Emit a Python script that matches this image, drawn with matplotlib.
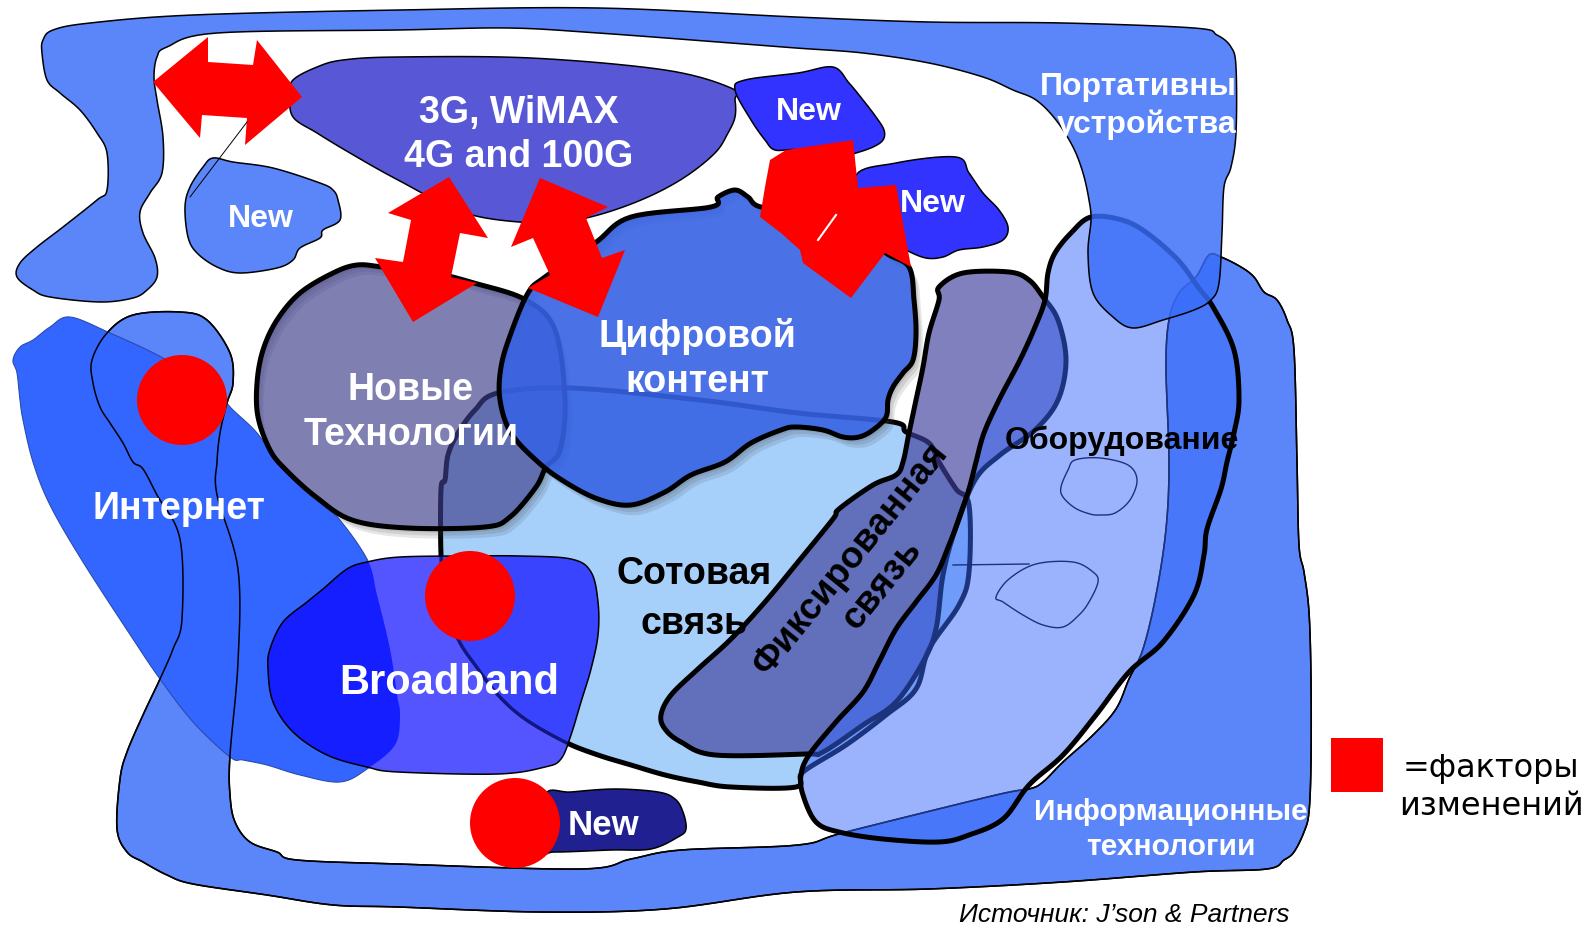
import numpy as np
import matplotlib
matplotlib.use("Agg")
import matplotlib.pyplot as plt
from matplotlib.patches import Polygon, Circle, Rectangle, PathPatch
from matplotlib.path import Path

# ---------------- labels (text content) ----------------
title_3g = ["3G, WiMAX", "4G and 100G"]
label_digital = ["Цифровой", "контент"]
label_newtech = ["Новые", "Технологии"]
label_internet = ["Интернет"]
label_broadband = ["Broadband"]
label_cellular = ["Сотовая", "связь"]
label_fixed = "Фиксированная\nсвязь"
label_equipment = ["Оборудование"]
label_portable = ["Портативны", "устройства"]
label_it = ["Информационные", "технологии"]
label_new = "New"
legend_label = ["=факторы", "изменений"]
source_label = "Источник: J\u2019son & Partners"

# ---------------- geometry (pixel outlines) ----------------
shape_A = [(53,30),(90,23),(193,15),(400,10),(598,8),(796,17),(929,22),(1063,23),(1194,28),(1217,35),
           (1231,47),(1236,67),(1236,133),(1231,167),(1224,187),(1222,233),(1219,283),(1211,300),(1194,310),
           (1163,320),(1133,328),(1113,317),(1093,293),(1088,253),(1091,220),(1089,200),(1083,173),(1073,147),
           (1056,120),(1036,100),(1013,90),(983,77),(929,63),(863,53),(796,48),(731,43),(598,33),(508,28),
           (398,30),(217,33),(167,47),(157,57),(154,77),(157,100),(163,137),(162,173),(150,193),(140,212),
           (143,233),(155,258),(157,277),(147,290),(133,298),(100,302),(50,297),(33,290),(17,277),(20,263),
           (37,247),(63,227),(97,200),(107,190),(107,153),(97,133),(80,110),(60,93),(47,80),(42,53),(43,40)]

shape_B = [(180,312),(133,315),(107,333),(92,360),(93,383),(100,407),(110,423),(123,443),(133,462),(143,469),
           (157,495),(180,539),(182,619),(173,649),(160,679),(143,715),(127,752),(120,779),(117,829),(127,852),
           (143,862),(167,875),(193,884),(267,895),(333,905),(398,907),(541,912),(665,909),(796,892),(929,889),
           (1063,882),(1194,872),(1267,869),(1284,860),(1294,852),(1304,832),(1309,812),(1311,762),(1311,679),
           (1309,612),(1304,572),(1299,545),(1297,462),(1294,350),(1287,320),(1277,300),(1264,292),(1254,277),
           (1241,267),(1221,257),(1209,255),(1196,277),(1179,293),(1169,320),(1166,367),(1169,462),(1166,529),
           (1156,595),(1143,649),(1129,679),(1116,709),(1093,735),(1063,762),(1043,782),(1029,789),(996,795),
           (846,832),(798,845),(681,850),(631,859),(581,869),(398,864),(297,860),(277,852),(250,842),(235,822),
           (230,795),(230,755),(238,662),(238,569),(217,495),(217,462),(220,433),(227,403),(233,383),(230,353),
           (207,320)]

shape_internet = [(13,360),(20,347),(33,340),(50,327),(70,317),(110,333),(163,358),(213,390),(233,410),
                  (257,433),(277,462),(300,485),(333,512),(367,559),(377,595),(390,649),(397,695),(400,715),
                  (395,745),(367,769),(340,782),(300,775),(267,765),(243,760),(230,757),(193,722),(160,679),
                  (133,639),(83,562),(50,505),(33,462),(23,420),(20,400),(17,373)]

shape_cell = [(498,393),(571,388),(700,400),(798,413),(893,422),(906,432),(929,443),(939,462),(956,489),
              (969,505),(969,572),(959,605),(929,649),(916,689),(886,715),(846,745),(803,772),(796,787),
              (731,787),(698,782),(665,775),(631,765),(598,755),(565,742),(525,719),(498,695),(478,669),
              (458,639),(445,600),(441,555),(441,489),(445,480),(448,455),(458,433),(475,410)]

shape_newtech = [(300,293),(333,273),(357,265),(383,267),(430,272),(474,283),(526,300),(555,330),(565,400),
                 (560,450),(546,467),(536,487),(510,517),(485,527),(408,528),(352,520),(316,497),(286,470),
                 (270,450),(258,417),(257,383),(263,350),(277,320)]

shape_digital = [(528,293),(545,277),(595,243),(631,217),(711,207),(718,197),(735,190),(748,197),(761,207),
                 (810,212),(860,230),(886,253),(909,267),(914,300),(916,333),(913,360),(903,373),(893,387),
                 (888,400),(886,417),(873,430),(859,437),(843,437),(823,430),(796,427),(781,430),(751,443),
                 (725,462),(691,475),(665,492),(631,505),(598,499),(565,482),(538,462),(511,433),(500,400),
                 (501,367),(511,333)]

shape_fixed = [(939,287),(963,273),(1009,272),(1029,280),(1043,297),(1058,320),(1066,360),(1058,400),
               (1035,430),(1000,455),(975,480),(955,530),(943,575),(936,629),(923,662),(896,702),(863,725),
               (823,752),(806,754),(715,755),(681,742),(665,729),(661,715),(671,695),(698,669),(731,639),
               (765,602),(798,562),(833,519),(839,509),(873,485),(896,475),(903,462),(909,433),(916,400),
               (923,367),(929,333),(939,300)]

shape_equip = [(1091,217),(1122,220),(1147,233),(1178,260),(1198,287),(1213,307),(1234,350),(1239,400),
               (1234,433),(1227,462),(1221,489),(1207,529),(1204,555),(1194,595),(1163,642),(1129,672),
               (1096,715),(1063,755),(1029,785),(1003,819),(969,835),(939,842),(883,839),(839,832),(816,822),
               (803,795),(801,775),(809,755),(836,722),(863,692),(879,662),(896,629),(916,602),(936,575),
               (949,545),(959,519),(969,489),(976,462),(984,433),(999,400),(1020,360),(1035,327),(1045,300),
               (1048,273),(1055,253),(1071,233)]

blob_eq1 = [(1061,487),(1068,470),(1075,460),(1100,458),(1128,465),(1137,480),(1130,500),(1115,513),
            (1100,515),(1090,514),(1075,508),(1063,497)]
blob_eq2 = [(996,597),(1009,579),(1036,564),(1073,562),(1093,572),(1098,582),(1089,602),(1079,615),
            (1063,627),(1043,625),(1023,615),(1003,602)]

shape_3g = [(290,95),(293,80),(317,67),(343,60),(398,57),(531,58),(665,70),(731,88),(735,100),(735,117),
            (728,133),(715,153),(685,177),(648,197),(605,213),(565,222),(531,223),(465,213),(398,180),
            (350,153),(317,133),(293,117)]

new_tl = [(213,158),(233,162),(273,168),(320,183),(333,190),(338,200),(340,220),(323,230),(320,238),
          (300,248),(293,260),(277,268),(240,273),(217,267),(197,253),(188,237),(185,207),(190,187),(203,167)]
new_tm = [(735,90),(745,80),(798,73),(833,67),(849,83),(863,100),(876,117),(884,130),(883,140),(873,147),
          (856,153),(830,160),(798,150),(775,150),(765,140),(751,120)]
new_r = [(855,178),(896,163),(956,157),(969,173),(983,193),(999,210),(1008,227),(1003,240),(983,247),
         (959,250),(943,257),(926,258),(906,250),(880,235)]
new_b = [(545,795),(571,792),(615,789),(658,792),(675,799),(683,812),(686,829),(678,837),(651,849),
         (611,850),(555,852),(545,849)]

shape_bb = [(400,557),(367,562),(347,569),(323,589),(307,602),(283,622),(270,649),(268,669),(273,702),
            (293,732),(327,755),(367,767),(398,772),(498,774),(545,767),(561,759),(571,735),(581,702),
            (591,669),(598,635),(598,602),(591,572),(571,559),(520,556),(465,556)]

arrow_1 = [(153,82),(208,37),(208,62),(253,65),(257,40),(302,97),(245,145),(247,118),(202,115),(200,138)]
arrow_2 = [(449,177),(488,238),(460,233),(451,277),(477,283),(413,322),(375,258),(403,262),(411,220),(388,213)]
arrow_3 = [(540,178),(608,207),(586,218),(602,258),(625,250),(598,317),(528,288),(550,275),(533,238),(511,247)]
arrow_4 = [(770,160),(786,150),(853,140),(858,188),(896,185),(911,267),(885,253),(851,298),(803,263),
           (800,250),(781,233),(760,217),(765,187)]

factor_circles = [(182,400),(470,596),(515,823)]
CIRCLE_R = 45

# ---------------- helpers ----------------
def smooth(pts, n=10):
    P = np.asarray(pts, float)
    m = len(P)
    t = np.linspace(0, 1, n, endpoint=False)[:, None]
    t2, t3 = t * t, t * t * t
    out = []
    for i in range(m):
        p0, p1, p2, p3 = P[(i - 1) % m], P[i], P[(i + 1) % m], P[(i + 2) % m]
        out.append(0.5 * ((2 * p1) + (-p0 + p2) * t + (2 * p0 - 5 * p1 + 4 * p2 - p3) * t2
                          + (-p0 + 3 * p1 - 3 * p2 + p3) * t3))
    return np.vstack(out)

def signed_area(xy):
    x, y = xy[:, 0], xy[:, 1]
    return 0.5 * np.sum(x * np.roll(y, -1) - np.roll(x, -1) * y)

THICK = 3.6
THIN = 1.1

W, H = 1592, 925
fig = plt.figure(figsize=(W / 100, H / 100), dpi=100)
ax = fig.add_axes([0, 0, 1, 1])
ax.set_xlim(0, W)
ax.set_ylim(H, 0)
ax.axis("off")

def blob(pts, fc, ec="black", lw=THIN, alpha=1.0, fill=True, sm=True, **kw):
    xy = smooth(pts) if sm else np.asarray(pts, float)
    p = Polygon(xy, closed=True, facecolor=fc if fill else "none", edgecolor=ec, linewidth=lw,
                alpha=alpha, fill=fill, joinstyle="round", **kw)
    ax.add_patch(p)
    return p

def shadow(pts, offsets=((3, 4), (5, 7), (7, 10)), alpha=0.13):
    base = smooth(pts)
    inner = base if signed_area(base) < 0 else base[::-1]
    for dx, dy in offsets:
        outer = base + np.array([dx, dy])
        if signed_area(outer) < 0:
            outer = outer[::-1]
        verts = np.vstack([outer, outer[:1], inner, inner[:1]])
        codes = ([Path.MOVETO] + [Path.LINETO] * (len(outer) - 1) + [Path.CLOSEPOLY]
                 + [Path.MOVETO] + [Path.LINETO] * (len(inner) - 1) + [Path.CLOSEPOLY])
        ax.add_patch(PathPatch(Path(verts, codes), facecolor="#404040", edgecolor="none", alpha=alpha))

# Информационные технологии (bottom U band)
blob(shape_B, "#5B86FA", ec="black", lw=THIN)
# Интернет
blob(shape_internet, "#3366FF", ec="#2a4bb0", lw=0.8)
blob(shape_B, "none", ec="black", lw=THIN, fill=False)

# Сотовая связь
blob(shape_cell, "#A6CFFA", ec="black", lw=THICK)
# Новые технологии
shadow(shape_newtech)
blob(shape_newtech, "#3D3D8B", ec="none", lw=0, alpha=0.66)
blob(shape_newtech, "none", ec="black", lw=THICK, fill=False)
# Цифровой контент
shadow(shape_digital)
blob(shape_digital, "#3662E3", ec="none", lw=0, alpha=0.9)
blob(shape_digital, "none", ec="black", lw=THICK, fill=False)
# Фиксированная связь
blob(shape_fixed, "#3F3F9D", ec="none", lw=0, alpha=0.66)
blob(shape_fixed, "none", ec="black", lw=THICK, fill=False)
# Оборудование
blob(shape_equip, "#3969FA", ec="none", lw=0, alpha=0.5)
blob(shape_equip, "none", ec="black", lw=THICK, fill=False)
# Портативные устройства (top frame)
blob(shape_A, "#396DF9", ec="none", lw=0, alpha=0.83)
blob(shape_A, "none", ec="black", lw=THIN, fill=False)

# small outlines inside Оборудование
blob(blob_eq1, "none", ec="#1F2F80", lw=1.0, fill=False)
blob(blob_eq2, "none", ec="#1F2F80", lw=1.0, fill=False)
ax.plot([953, 1029], [565, 564], color="#1F2F80", lw=1.0)

# 3G and New blobs
blob(shape_3g, "#5858D6", ec="black", lw=THIN)
blob(new_tl, "#5B86FA", ec="black", lw=THIN)
blob(new_tm, "#3333FF", ec="black", lw=THIN)
blob(new_r, "#3333FF", ec="black", lw=THIN)
blob(new_b, "#202090", ec="black", lw=THIN)

# Broadband (multiply-like look via clipped overlays)
bb = blob(shape_bb, "#5555FF", ec="none", lw=0)
ov1 = blob(shape_internet, "#151EFF", ec="none", lw=0)
ov1.set_clip_path(bb)
ov2 = blob(shape_cell, "#3944FF", ec="#101880", lw=2.5)
ov2.set_clip_path(bb)
blob(shape_bb, "none", ec="black", lw=THIN, fill=False)

# red arrows and factor circles
for arr in (arrow_1, arrow_2, arrow_3, arrow_4):
    ax.add_patch(Polygon(arr, closed=True, facecolor="#FF0000", edgecolor="none"))
ax.plot([836, 818], [215, 240], color="white", lw=1.5)
ax.plot([247, 190], [122, 197], color="black", lw=0.7)
for (cx, cy) in factor_circles:
    ax.add_patch(Circle((cx, cy), CIRCLE_R, facecolor="#FF0000", edgecolor="none"))

# ---------------- text ----------------
BOLD = dict(family="Liberation Sans", fontweight="bold")

def lines(x, baselines, texts, size, color="white", ha="center"):
    for yb, t in zip(baselines, texts):
        ax.text(x, yb, t, fontsize=size, color=color, ha=ha, va="baseline", **BOLD)

lines(519, [123, 167], title_3g, 27)
lines(697, [347, 392], label_digital, 27)
lines(411, [400, 445], label_newtech, 27)
lines(179, [519], label_internet, 27)
lines(449, [694], label_broadband, 30)
lines(694, [584, 634], label_cellular, 27, color="black")
lines(1122, [449], label_equipment, 23, color="black")
lines(1237, [95, 133], label_portable, 23, ha="right")
lines(1171, [820, 855], label_it, 21.5)
for (x, yb, s) in [(261, 227, 23), (809, 120, 23), (933, 212, 23), (603, 835, 25)]:
    ax.text(x, yb, label_new, fontsize=s, color="white", ha="center", va="baseline", **BOLD)
ax.text(867, 572, label_fixed, fontsize=26.5, color="black", rotation=51, rotation_mode="anchor",
        ha="center", va="center", multialignment="center", linespacing=1.2, **BOLD)

# legend
ax.add_patch(Rectangle((1331, 738), 52, 54, facecolor="#FF0000", edgecolor="none"))
for yb, t in zip([777, 815], legend_label):
    ax.text(1491, yb, t, fontsize=23, color="black", ha="center", va="baseline", family="DejaVu Sans")

ax.text(959, 922, source_label, fontsize=19, color="black", ha="left", va="baseline",
        family="Liberation Sans", style="italic")

fig.savefig("out.png", dpi=100)
